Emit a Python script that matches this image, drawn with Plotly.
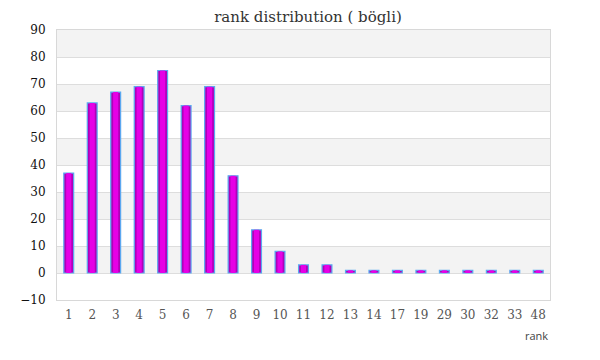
import plotly.graph_objects as go

ranks = ["1", "2", "3", "4", "5", "6", "7", "8", "9", "10", "11", "12",
         "13", "14", "17", "19", "29", "30", "32", "33", "48"]
counts = [37, 63, 67, 69, 75, 62, 69, 36, 16, 8, 3, 3,
          1, 1, 1, 1, 1, 1, 1, 1, 1]
y_ticks = [-10, 0, 10, 20, 30, 40, 50, 60, 70, 80, 90]
title_text = "rank distribution ( bögli)"
x_title = "rank"

serif = "Georgia, 'DejaVu Serif', serif"

fig = go.Figure()
# main bar (darker edges)
fig.add_trace(go.Bar(x=ranks, y=counts, width=0.42,
                     marker=dict(color="#b000b8", line=dict(color="#5aaaf0", width=1.2)),
                     hoverinfo="x+y", showlegend=False))
# brighter core to suggest gradient
fig.add_trace(go.Bar(x=ranks, y=counts, width=0.22,
                     marker=dict(color="#e600e6", line=dict(width=0)),
                     hoverinfo="skip", showlegend=False))

shapes = []
for lo in y_ticks[1:-1:2]:
    shapes.append(dict(type="rect", xref="paper", yref="y", x0=0, x1=1,
                       y0=lo, y1=lo + 10, fillcolor="#f3f3f3",
                       line=dict(width=0), layer="below"))

fig.update_layout(
    width=600, height=360,
    margin=dict(l=42, r=58, t=22, b=68),
    paper_bgcolor="white", plot_bgcolor="white",
    barmode="overlay",
    title=dict(text=title_text, x=0.5, xanchor="center", y=1.0, yanchor="top",
               yref="container", pad=dict(t=3, b=0),
               font=dict(family=serif, size=15, color="#333")),
    shapes=shapes,
    xaxis=dict(type="category", categoryorder="array", categoryarray=ranks,
               showgrid=False, showline=True, linecolor="#d8d8d8", linewidth=1,
               mirror=True, ticks="", ticklen=0, ticklabelstandoff=4,
               tickfont=dict(family=serif, size=12, color="#555"),
               zeroline=False),
    yaxis=dict(range=[-10, 90], tickvals=y_ticks, showgrid=True,
               gridcolor="#dddddd", gridwidth=1, showline=True,
               linecolor="#d8d8d8", mirror=True, zeroline=True,
               zerolinecolor="#dddddd", zerolinewidth=1,
               tickfont=dict(family=serif, size=12, color="#111"),
               ticks="", ticklabelstandoff=8),
    annotations=[dict(text=x_title, xref="paper", yref="paper", x=1, y=0,
                      xanchor="right", yanchor="top", yshift=-26, showarrow=False,
                      font=dict(family="'Open Sans', 'DejaVu Sans', sans-serif",
                                size=11, color="#444"))],
)

fig.write_html("out.html")
